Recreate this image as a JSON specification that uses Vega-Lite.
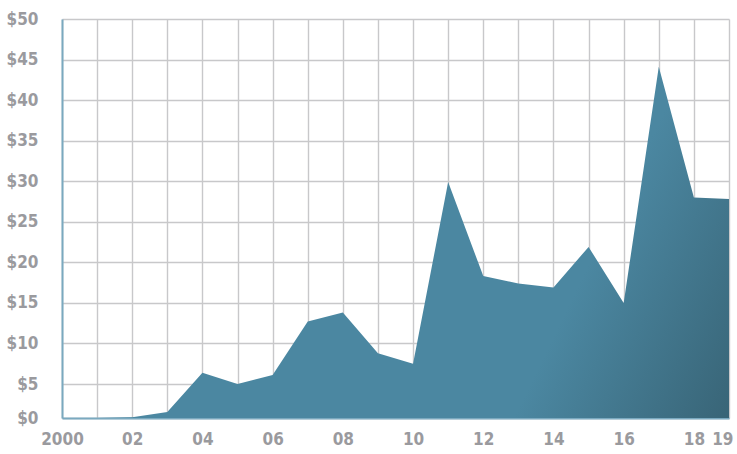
{
  "$schema": "https://vega.github.io/schema/vega-lite/v6.json",
  "autosize": {"type": "none"},
  "width": 667,
  "height": 399,
  "padding": {"left": 62, "top": 19, "right": 8, "bottom": 36},
  "background": "white",
  "data": {
    "values": [
      {"year": 2000, "value": 0},
      {"year": 2001, "value": 0},
      {"year": 2002, "value": 0.1},
      {"year": 2003, "value": 0.9},
      {"year": 2004, "value": 6.4},
      {"year": 2005, "value": 5.0},
      {"year": 2006, "value": 6.1},
      {"year": 2007, "value": 12.7},
      {"year": 2008, "value": 13.8},
      {"year": 2009, "value": 8.8},
      {"year": 2010, "value": 7.5},
      {"year": 2011, "value": 29.9},
      {"year": 2012, "value": 18.3},
      {"year": 2013, "value": 17.4},
      {"year": 2014, "value": 16.9},
      {"year": 2015, "value": 21.9},
      {"year": 2016, "value": 15.0},
      {"year": 2017, "value": 44.1},
      {"year": 2018, "value": 28.0},
      {"year": 2019, "value": 27.8}
    ]
  },
  "mark": {
    "type": "area",
    "interpolate": "linear",
    "color": {
      "gradient": "linear",
      "x1": 0.69, "y1": 0.95, "x2": 1.0, "y2": 1.03,
      "stops": [
        {"offset": 0, "color": "#4b87a1"},
        {"offset": 1, "color": "#386476"}
      ]
    }
  },
  "encoding": {
    "x": {
      "field": "year",
      "type": "quantitative",
      "title": null,
      "scale": {"domain": [2000, 2019], "nice": false, "zero": false},
      "axis": {
        "values": [2000, 2001, 2002, 2003, 2004, 2005, 2006, 2007, 2008, 2009, 2010, 2011, 2012, 2013, 2014, 2015, 2016, 2017, 2018, 2019],
        "labelExpr": "datum.value == 2000 ? '2000' : (datum.value % 2 == 0 || datum.value == 2019) ? slice(toString(datum.value), 2) : ''",
        "labelAlign": {"condition": {"test": "datum.value == 2019", "value": "right"}, "value": "center"},
        "labelOffset": {"condition": {"test": "datum.value == 2019", "value": 4}, "value": 0},
        "grid": true,
        "ticks": false,
        "labelPadding": 13,
        "labelFlush": false,
        "labelOverlap": false
      }
    },
    "y": {
      "field": "value",
      "type": "quantitative",
      "title": null,
      "scale": {"domain": [0, 5, 50], "range": [399, 365, 0], "nice": false},
      "axis": {
        "values": [0, 5, 10, 15, 20, 25, 30, 35, 40, 45, 50],
        "labelExpr": "'$' + datum.value",
        "grid": true,
        "ticks": false,
        "labelPadding": 24
      }
    }
  },
  "config": {
    "view": {"stroke": null},
    "axis": {
      "gridColor": "#c8c8ca",
      "gridWidth": 1.4,
      "gridOpacity": 1,
      "domainColor": "#7aa9bf",
      "domainWidth": 2,
      "labelFont": "DejaVu Sans Condensed",
      "labelFontWeight": "bold",
      "labelFontSize": 17,
      "labelColor": "#9a9a9e"
    }
  }
}
